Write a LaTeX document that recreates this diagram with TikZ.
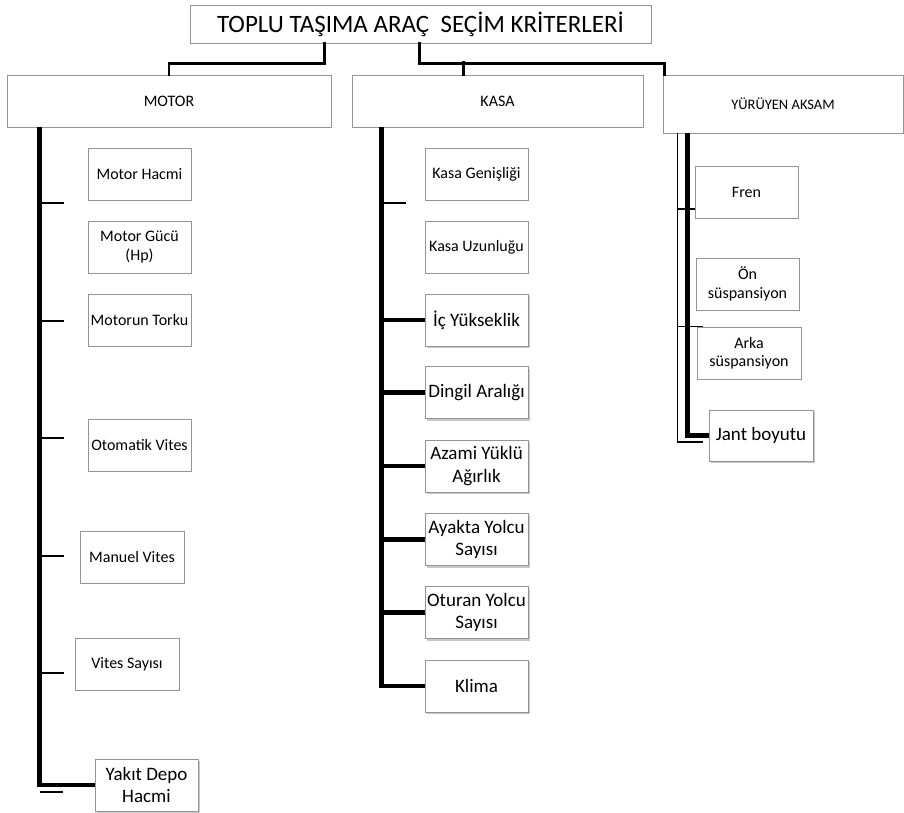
\documentclass[tikz,border=0pt]{standalone}
\usepackage{fontspec}
\setmainfont{Carlito}
\usetikzlibrary{calc,shadows}
\begin{document}
\begin{tikzpicture}[x=1pt,y=-1pt,
  box/.style={draw=black!42, line width=0.9pt, fill=white, inner sep=0.5pt, align=center,
    minimum width=103pt, minimum height=52pt, font=\fontsize{16}{18.5}\selectfont},
  bigbox/.style={box, font=\fontsize{19}{22.5}\selectfont,
    drop shadow={shadow xshift=1.5pt, shadow yshift=-2.2pt, opacity=0.3, fill=black!70}},
  headbox/.style={draw=black!42, line width=0.9pt, fill=white, inner sep=1pt, align=center, font=\fontsize{16}{18}\selectfont},
  link/.style={line width=2.6pt, line cap=rect},
  bus/.style={line width=4.6pt},
  tick/.style={line width=1.8pt},
]
\useasboundingbox (0,0) rectangle (904,812);
\fill[white] (0,0) rectangle (904,812);

% title and main categories
\node[headbox, minimum width=461pt, minimum height=38pt, font=\fontsize{25}{29}\selectfont] (title) at (420.5,24) {TOPLU TAŞIMA ARAÇ\ \ SEÇİM KRİTERLERİ};
\node[headbox, minimum width=324pt, minimum height=52pt] (motor) at (169,101) {MOTOR};
\node[headbox, minimum width=291pt, minimum height=52pt] (kasa) at (497.5,101) {KASA};
\node[headbox, minimum width=240pt, minimum height=58pt, font=\fontsize{14.5}{17}\selectfont] (yur) at (783,104) {YÜRÜYEN AKSAM};

% connectors from title
\coordinate (tL) at ($(title.south west)+(135,0)$);
\coordinate (tR) at ($(title.south west)+(230,0)$);
\coordinate (kTop) at ($(kasa.north west)+(112,0)$);
\coordinate (yTop) at ($(yur.north west)+(2,0)$);
\draw[link] (tL) -- ++(0,20) -| (motor.north);
\draw[link] (tR) -- ++(0,20) -| (yTop);
\draw[link] (kTop) -- ++(0,-12);

% MOTOR children
\node[box] (mh) at (139.5,174) {Motor Hacmi};
\node[box] (mg) at (139.5,247) {Motor Gücü\\(Hp)};
\node[box] (mt) at (139.5,320) {Motorun Torku};
\node[box] (ov) at (139.5,445) {Otomatik Vites};
\node[box, minimum width=104pt] (mv) at (132,557) {Manuel Vites};
\node[box, minimum width=104pt] (vs) at (127,664) {Vites Sayısı};
\node[bigbox] (yd) at (146.5,785) {Yakıt Depo\\Hacmi};

\coordinate (mbus) at ($(motor.south west)+(33,0)$);
\draw[bus] (mbus) |- (yd.west);
\foreach \yy in {203,321,438,556,673} {
  \draw[tick] (mbus |- 0,\yy) -- ++(24,0);
}
\draw[tick] ($(mbus |- yd.west)+(0,7)$) -- ++(23,0);

% KASA children
\node[box] (kg) at (476.5,174) {Kasa Genişliği};
\node[box] (ku) at (476.5,247) {Kasa Uzunluğu};
\node[bigbox] (ic) at (476.5,320) {İç Yükseklik};
\node[bigbox] (da) at (476.5,392.5) {Dingil Aralığı};
\node[bigbox] (ay) at (476.5,466) {Azami Yüklü\\Ağırlık};
\node[bigbox] (ays) at (476.5,539.5) {Ayakta Yolcu\\Sayısı};
\node[bigbox] (oys) at (476.5,612.5) {Oturan Yolcu\\Sayısı};
\node[bigbox] (kl) at (476.5,686) {Klima};

\coordinate (kbus) at ($(kasa.south west)+(30,0)$);
\draw[bus] (kbus) |- (kl.west);
\foreach \n in {ic,da,ay,ays,oys} {
  \draw[bus] (\n.west -| kbus) -- (\n.west);
}
\draw[tick] (kbus |- 0,203) -- ++(24,0);

% YURUYEN AKSAM children
\node[box] (fren) at (746.5,192) {Fren};
\node[box] (on) at (747.5,284) {Ön\\süspansiyon};
\node[box, minimum width=104pt] (arka) at (749,353) {Arka\\süspansiyon};
\node[bigbox, minimum width=104pt, minimum height=51pt] (jant) at (761,435.5) {Jant boyutu};

\coordinate (ybus) at ($(yur.south west)+(25,0)$);
\coordinate (ythin) at ($(yur.south west)+(15,0)$);
\draw[bus] (ybus) |- (jant.west);
\draw[tick] (ythin) |- ($(jant.west)+(-6,6.5)$);
\draw[tick] (ythin |- 0,209) -- (fren.west |- 0,209);
\draw[tick] (ythin |- arka.north) -- ($(arka.north west)+(6,0)$);
\end{tikzpicture}
\end{document}
